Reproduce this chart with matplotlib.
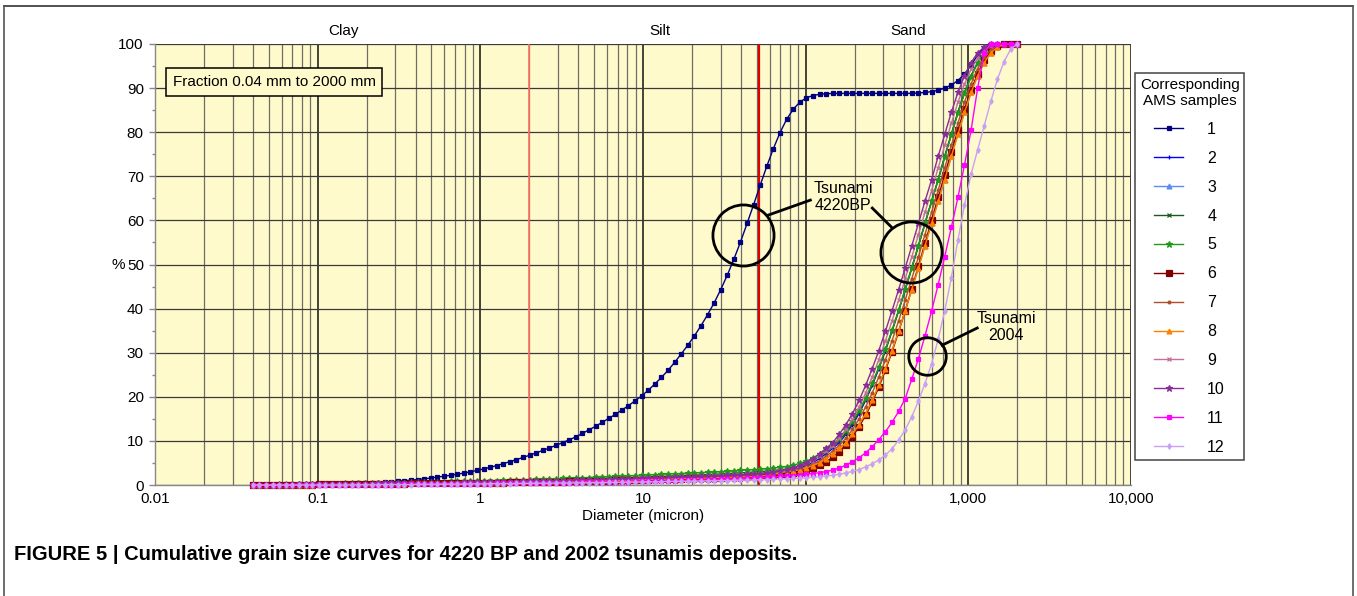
import matplotlib.pyplot as plt
from matplotlib.lines import Line2D
from matplotlib.ticker import FixedLocator, LogLocator, NullFormatter, MultipleLocator

plt.rcParams['font.family'] = ['Liberation Sans', 'DejaVu Sans']

# grain size channels (micron), 0.04 - 2000
diameter = [
    0.0400, 0.0439, 0.0482, 0.0529, 0.0581, 0.0638, 0.0700, 0.0769, 0.0844, 0.0926,
    0.1017, 0.1116, 0.1225, 0.1345, 0.1477, 0.1621, 0.1780, 0.1954, 0.2145, 0.2354,
    0.2585, 0.2837, 0.3114, 0.3419, 0.3753, 0.4120, 0.4523, 0.4965, 0.5450, 0.5983,
    0.6568, 0.7208, 0.7913, 0.8686, 0.9535, 1.0468, 1.149, 1.261, 1.385, 1.520,
    1.669, 1.831, 2.010, 2.207, 2.423, 2.660, 2.920, 3.205, 3.518, 3.862,
    4.240, 4.654, 5.109, 5.609, 6.157, 6.759, 7.420, 8.145, 8.942, 9.816,
    10.78, 11.83, 12.99, 14.26, 15.65, 17.18, 18.86, 20.70, 22.73, 24.95,
    27.39, 30.07, 33.01, 36.23, 39.78, 43.66, 47.93, 52.62, 57.76, 63.41,
    69.61, 76.41, 83.88, 92.09, 101.1, 110.9, 121.8, 133.7, 146.8, 161.1,
    176.9, 194.2, 213.2, 234.0, 256.9, 282.0, 309.6, 339.8, 373.0, 409.5,
    449.5, 493.5, 541.7, 594.7, 652.8, 716.6, 786.7, 863.6, 948.0, 1041,
    1142, 1254, 1376, 1511, 1659, 1821, 2000,
]

# cumulative % for sample 1 (4220 BP silt)
s1 = [
    0, 0, 0, 0, 0, 0, 0, 0.05, 0.05, 0.1,
    0.1, 0.15, 0.15, 0.2, 0.25, 0.3, 0.35, 0.4, 0.5, 0.55,
    0.65, 0.75, 0.85, 1.0, 1.1, 1.25, 1.4, 1.6, 1.8, 2.0,
    2.2, 2.45, 2.7, 3.0, 3.3, 3.65, 4.0, 4.4, 4.85, 5.3,
    5.75, 6.25, 6.75, 7.3, 7.85, 8.4, 9.0, 9.6, 10.25, 10.9,
    11.7, 12.5, 13.3, 14.2, 15.1, 16.0, 17.0, 18.0, 19.1, 20.2,
    21.5, 22.9, 24.4, 26.0, 27.8, 29.7, 31.7, 33.8, 36.1, 38.6,
    41.3, 44.3, 47.6, 51.2, 55.1, 59.3, 63.6, 68.0, 72.3, 76.3,
    79.9, 82.9, 85.2, 86.8, 87.8, 88.3, 88.6, 88.7, 88.8, 88.8,
    88.8, 88.8, 88.8, 88.8, 88.8, 88.8, 88.8, 88.8, 88.8, 88.8,
    88.8, 88.9, 89.0, 89.2, 89.5, 90.0, 90.7, 91.7, 93.2, 95.2,
    97.5, 99.2, 99.9, 100, 100, 100, 100,
]

# fine tails (0.04 - 63 micron) of the sand samples 2-10
tail_mid = [
    0.0, 0.0, 0.05, 0.05, 0.1, 0.1, 0.1, 0.15, 0.15, 0.15,
    0.2, 0.2, 0.2, 0.25, 0.25, 0.25, 0.3, 0.3, 0.3, 0.35,
    0.35, 0.35, 0.4, 0.4, 0.4, 0.45, 0.45, 0.5, 0.5, 0.5,
    0.55, 0.55, 0.6, 0.6, 0.6, 0.65, 0.65, 0.7, 0.7, 0.75,
    0.75, 0.8, 0.8, 0.85, 0.85, 0.9, 0.95, 0.95, 1.0, 1.05,
    1.1, 1.1, 1.15, 1.2, 1.25, 1.3, 1.35, 1.4, 1.45, 1.5,
    1.55, 1.6, 1.65, 1.7, 1.75, 1.8, 1.85, 1.9, 1.95, 2.0,
    2.05, 2.1, 2.2, 2.25, 2.3, 2.4, 2.5, 2.6, 2.7, 2.85,
]
tail_high = [
    0.0, 0.05, 0.1, 0.1, 0.15, 0.15, 0.2, 0.2, 0.2, 0.25,
    0.25, 0.3, 0.3, 0.3, 0.35, 0.35, 0.4, 0.4, 0.45, 0.45,
    0.5, 0.5, 0.55, 0.55, 0.6, 0.6, 0.65, 0.7, 0.7, 0.75,
    0.8, 0.8, 0.85, 0.9, 0.9, 0.95, 1.0, 1.0, 1.05, 1.1,
    1.15, 1.2, 1.25, 1.3, 1.35, 1.4, 1.45, 1.5, 1.55, 1.6,
    1.65, 1.7, 1.8, 1.85, 1.9, 1.95, 2.0, 2.1, 2.15, 2.2,
    2.3, 2.35, 2.4, 2.5, 2.55, 2.6, 2.7, 2.75, 2.8, 2.9,
    2.95, 3.0, 3.1, 3.2, 3.3, 3.4, 3.5, 3.6, 3.7, 3.85,
]
tail_dkgreen = [
    0.0, 0.0, 0.05, 0.05, 0.1, 0.1, 0.15, 0.15, 0.15, 0.2,
    0.2, 0.2, 0.25, 0.25, 0.3, 0.3, 0.3, 0.35, 0.35, 0.4,
    0.4, 0.45, 0.45, 0.5, 0.5, 0.5, 0.55, 0.55, 0.6, 0.6,
    0.65, 0.65, 0.7, 0.7, 0.75, 0.75, 0.8, 0.8, 0.85, 0.9,
    0.9, 0.95, 1.0, 1.0, 1.05, 1.1, 1.1, 1.15, 1.2, 1.25,
    1.3, 1.35, 1.4, 1.45, 1.5, 1.55, 1.6, 1.65, 1.7, 1.8,
    1.85, 1.9, 1.95, 2.0, 2.1, 2.15, 2.2, 2.25, 2.3, 2.4,
    2.45, 2.5, 2.6, 2.7, 2.75, 2.85, 2.95, 3.05, 3.15, 3.3,
]
tail_low = [
    0.0, 0.0, 0.0, 0.05, 0.05, 0.05, 0.1, 0.1, 0.1, 0.1,
    0.15, 0.15, 0.15, 0.2, 0.2, 0.2, 0.2, 0.25, 0.25, 0.25,
    0.3, 0.3, 0.3, 0.3, 0.35, 0.35, 0.35, 0.4, 0.4, 0.4,
    0.45, 0.45, 0.45, 0.5, 0.5, 0.5, 0.5, 0.55, 0.55, 0.6,
    0.6, 0.65, 0.65, 0.7, 0.7, 0.7, 0.75, 0.75, 0.8, 0.85,
    0.85, 0.9, 0.9, 0.95, 1.0, 1.05, 1.1, 1.1, 1.15, 1.2,
    1.25, 1.3, 1.3, 1.35, 1.4, 1.45, 1.5, 1.5, 1.55, 1.6,
    1.65, 1.7, 1.75, 1.8, 1.85, 1.9, 2.0, 2.1, 2.2, 2.3,
]

# sand parts (70 - 2000 micron) of samples 2-10
rise_mid = [
    3.0, 3.2, 3.5, 3.9, 4.4, 5.1, 6.0, 7.1, 8.3, 9.6,
    11.5, 13.7, 16.2, 19.2, 22.6, 26.4, 30.5, 34.9, 39.5, 44.3,
    49.2, 54.2, 59.3, 64.3, 69.2, 74.5, 79.5, 84.5, 89.0, 92.8,
    95.8, 98.0, 99.3, 99.9, 100, 100, 100,
]
rise_right = [
    2.85, 3.0, 3.2, 3.5, 3.9, 4.4, 5.1, 6.0, 7.1, 8.3,
    9.6, 11.5, 13.7, 16.2, 19.2, 22.6, 26.4, 30.5, 34.9, 39.5,
    44.3, 49.2, 54.2, 59.3, 64.3, 69.2, 74.5, 79.5, 84.5, 89.0,
    92.8, 95.8, 98.0, 99.3, 99.9, 100, 100,
]
rise_left = [
    3.2, 3.5, 3.9, 4.4, 5.1, 6.0, 7.1, 8.3, 9.6, 11.5,
    13.7, 16.2, 19.2, 22.6, 26.4, 30.5, 34.9, 39.5, 44.3, 49.2,
    54.2, 59.3, 64.3, 69.2, 74.5, 79.5, 84.5, 89.0, 92.8, 95.8,
    98.0, 99.3, 99.9, 100, 100, 100, 100,
]
rise_green = [
    4.0, 4.2, 4.5, 4.9, 5.4, 6.1, 7.0, 8.1, 9.3, 10.6,
    12.4, 14.5, 16.9, 19.8, 23.1, 26.8, 30.8, 35.1, 39.6, 44.4,
    49.3, 54.3, 59.3, 64.3, 69.2, 74.4, 79.4, 84.3, 88.8, 92.6,
    95.7, 97.9, 99.2, 99.8, 100, 100, 100,
]
rise_dkgreen = [
    3.45, 3.65, 3.95, 4.35, 4.9, 5.6, 6.5, 7.6, 8.8, 10.1,
    11.9, 14.0, 16.5, 19.4, 22.8, 26.5, 30.6, 34.9, 39.5, 44.3,
    49.2, 54.2, 59.3, 64.3, 69.2, 74.5, 79.5, 84.5, 89.0, 92.8,
    95.8, 98.0, 99.3, 99.9, 100, 100, 100,
]
rise_dkred = [
    2.4, 2.55, 2.75, 3.0, 3.4, 3.9, 4.5, 5.3, 6.3, 7.6,
    9.1, 11.0, 13.2, 15.8, 18.8, 22.2, 26.0, 30.2, 34.7, 39.5,
    44.5, 49.6, 54.8, 60.0, 65.2, 70.4, 75.5, 80.5, 85.3, 89.6,
    93.3, 96.3, 98.4, 99.5, 99.9, 100, 100,
]
rise_orange = [
    2.9, 3.1, 3.35, 3.7, 4.15, 4.75, 5.5, 6.5, 7.7, 9.0,
    10.6, 12.6, 15.0, 17.7, 20.9, 24.5, 28.4, 32.7, 37.2, 41.9,
    46.8, 51.7, 56.8, 61.8, 66.8, 71.9, 77.0, 82.0, 86.8, 91.0,
    94.4, 97.0, 98.7, 99.6, 100, 100, 100,
]
rise_mauve = [
    3.1, 3.35, 3.7, 4.15, 4.75, 5.55, 6.55, 7.7, 8.95, 10.55,
    12.6, 14.95, 17.7, 20.9, 24.5, 28.45, 32.7, 37.2, 41.9, 46.75,
    51.7, 56.75, 61.8, 66.75, 71.85, 77.0, 82.0, 86.75, 90.9, 94.3,
    96.9, 98.65, 99.6, 99.95, 100, 100, 100,
]

# 2004 tsunami samples
s11 = [
    0, 0, 0, 0, 0, 0, 0, 0, 0, 0,
    0, 0, 0, 0.05, 0.05, 0.05, 0.05, 0.05, 0.1, 0.1,
    0.1, 0.1, 0.1, 0.15, 0.15, 0.15, 0.15, 0.2, 0.2, 0.2,
    0.2, 0.25, 0.25, 0.25, 0.3, 0.3, 0.3, 0.35, 0.35, 0.35,
    0.4, 0.4, 0.4, 0.45, 0.45, 0.5, 0.5, 0.5, 0.55, 0.55,
    0.6, 0.6, 0.65, 0.65, 0.7, 0.7, 0.75, 0.75, 0.8, 0.85,
    0.85, 0.9, 0.95, 0.95, 1.0, 1.05, 1.1, 1.1, 1.15, 1.2,
    1.25, 1.3, 1.35, 1.4, 1.45, 1.5, 1.6, 1.65, 1.75, 1.85,
    1.95, 2.05, 2.15, 2.3, 2.45, 2.6, 2.8, 3.05, 3.4, 3.85,
    4.5, 5.3, 6.2, 7.3, 8.7, 10.3, 12.1, 14.2, 16.7, 19.6,
    24.0, 28.6, 33.8, 39.4, 45.4, 51.8, 58.4, 65.2, 72.6, 80.5,
    90.0, 98.0, 100, 100, 100, 100, 100,
]
s12 = [
    0, 0, 0, 0, 0, 0, 0, 0, 0, 0,
    0, 0, 0, 0, 0, 0.05, 0.05, 0.05, 0.05, 0.05,
    0.1, 0.1, 0.1, 0.1, 0.1, 0.15, 0.15, 0.15, 0.15, 0.2,
    0.2, 0.2, 0.2, 0.25, 0.25, 0.25, 0.3, 0.3, 0.3, 0.3,
    0.35, 0.35, 0.35, 0.4, 0.4, 0.4, 0.45, 0.45, 0.45, 0.5,
    0.5, 0.5, 0.55, 0.55, 0.6, 0.6, 0.6, 0.65, 0.65, 0.7,
    0.7, 0.75, 0.75, 0.8, 0.8, 0.85, 0.85, 0.9, 0.9, 0.95,
    0.95, 1.0, 1.0, 1.05, 1.1, 1.1, 1.15, 1.2, 1.25, 1.3,
    1.35, 1.4, 1.5, 1.55, 1.65, 1.75, 1.9, 2.05, 2.2, 2.45,
    2.75, 3.1, 3.5, 4.1, 4.8, 5.7, 6.8, 8.2, 10.2, 12.5,
    15.5, 19.0, 23.0, 27.5, 33.0, 39.5, 47.0, 55.5, 63.5, 70.5,
    76.0, 81.5, 87.0, 92.0, 96.0, 98.8, 100,
]

samples = {
    '1': s1,
    '2': tail_mid + rise_mid,
    '3': tail_mid + rise_right,
    '4': tail_dkgreen + rise_dkgreen,
    '5': tail_high + rise_green,
    '6': tail_low + rise_dkred,
    '7': tail_mid + rise_orange,
    '8': tail_low + rise_right,
    '9': tail_mid + rise_mauve,
    '10': tail_mid + rise_left,
    '11': s11,
    '12': s12,
}
colors = {'1': '#000080', '2': '#0000ff', '3': '#5b8cf5', '4': '#1c5a1c',
          '5': '#1f9a1f', '6': '#800000', '7': '#b0502a', '8': '#ff8000',
          '9': '#c0709a', '10': '#8a2b9a', '11': '#ff00ff', '12': '#c8a0f5'}
markers = {'1': 's', '2': '+', '3': '^', '4': 'x', '5': '*', '6': 's',
           '7': '.', '8': '^', '9': 'x', '10': '*', '11': 's', '12': 'd'}
msizes = {'1': 3.5, '2': 3.5, '3': 3.5, '4': 3.5, '5': 4.5, '6': 4,
          '7': 4, '8': 3.5, '9': 3.5, '10': 4.5, '11': 3.5, '12': 2.8}

fig = plt.figure(figsize=(13.57, 5.96), dpi=100)
ax = fig.add_axes([0.1142, 0.1862, 0.7192, 0.740])
ax.set_facecolor('#fffacb')

for name, vals in samples.items():
    ax.plot(diameter, vals, color=colors[name], lw=1.0, marker=markers[name],
            ms=msizes[name], mew=0.9, label=name, zorder=3, clip_on=False)

# grain size class boundaries
ax.axvline(2, color='#ff7060', lw=1.2, zorder=1.5)
ax.axvline(52, color='#e00000', lw=1.6, zorder=1.5)

ax.set_xscale('log')
ax.set_xlim(0.01, 10000)
ax.set_ylim(0, 100)
ax.xaxis.set_major_locator(FixedLocator([0.01, 0.1, 1, 10, 100, 1000, 10000]))
ax.set_xticklabels(['0.01', '0.1', '1', '10', '100', '1,000', '10,000'])
ax.xaxis.set_minor_locator(LogLocator(base=10, subs=range(2, 10), numticks=20))
ax.xaxis.set_minor_formatter(NullFormatter())
ax.yaxis.set_major_locator(MultipleLocator(10))
ax.yaxis.set_minor_locator(MultipleLocator(5))

ax.grid(which='major', axis='x', color='#111111', lw=1.1, zorder=1)
ax.grid(which='minor', axis='x', color='#555555', lw=0.9, alpha=0.85, zorder=1)
ax.grid(which='major', axis='y', color='#3a3a3a', lw=0.9, zorder=1)
ax.set_axisbelow(True)

ax.tick_params(axis='x', which='both', length=0, pad=5, labelsize=11)
ax.tick_params(axis='y', which='major', length=4, width=1, color='#888888',
               pad=4, labelsize=11)
ax.tick_params(axis='y', which='minor', length=2.5, width=1, color='#888888')
for side in ['top', 'right']:
    ax.spines[side].set_visible(False)
for side in ['left', 'bottom']:
    ax.spines[side].set_color('#888888')
    ax.spines[side].set_linewidth(1.0)

ax.set_xlabel('Diameter (micron)', fontsize=11, labelpad=2)
ax.text(-0.031, 0.5, '%', transform=ax.transAxes, ha='right', va='center',
        fontsize=11)

# fraction labels above the plot
trans = ax.get_xaxis_transform()
for lab, xpos in [('Clay', 0.144), ('Silt', 12.8), ('Sand', 427)]:
    ax.text(xpos, 1.03, lab, transform=trans, ha='center', va='center',
            fontsize=11)

ax.text(0.122, 0.914, 'Fraction 0.04 mm to 2000 mm', transform=ax.transAxes,
        ha='center', va='center', fontsize=11, zorder=5,
        bbox=dict(boxstyle='square,pad=0.45', fc='#fffacb', ec='black', lw=1.1))

# annotation circles and leaders
circle_kw = dict(marker='o', mfc='none', mec='black', mew=2.0, ls='none',
                 zorder=6, clip_on=False)
ax.plot([41.4], [56.7], ms=44, **circle_kw)
ax.plot([446], [52.8], ms=44, **circle_kw)
ax.plot([559], [29.3], ms=27, **circle_kw)
ax.plot([58.9, 107], [61.2, 64.6], color='black', lw=2, zorder=6)
ax.plot([341, 257], [58.3, 62.8], color='black', lw=2, zorder=6)
ax.plot([691, 1135], [31.7, 35.6], color='black', lw=2, zorder=6)
ax.text(170, 65.3, 'Tsunami\n4220BP', ha='center', va='center', fontsize=11.5,
        linespacing=1.15, zorder=6)
ax.text(1710, 35.8, 'Tsunami\n2004', ha='center', va='center', fontsize=11.5,
        linespacing=1.15, zorder=6)

handles, labels = ax.get_legend_handles_labels()
leg = fig.legend(handles, labels, loc='upper left',
                 bbox_to_anchor=(1135 / 1357, 1 - 73 / 596),
                 bbox_transform=fig.transFigure, borderaxespad=0,
                 title='Corresponding\nAMS samples', fontsize=11.5,
                 title_fontsize=11, frameon=True, fancybox=False,
                 edgecolor='#444444', framealpha=1, handlelength=1.8,
                 handletextpad=1.5, labelspacing=0.87, borderpad=0.3,
                 numpoints=1, alignment='center')
leg.get_frame().set_linewidth(1.1)
leg.get_title().set_multialignment('center')

# outer frame of the figure panel
fig.add_artist(Line2D([0.003, 0.997], [0.99, 0.99], color='#333333', lw=1.2))
fig.add_artist(Line2D([0.003, 0.003], [0.0, 0.99], color='#555555', lw=1.2))
fig.add_artist(Line2D([0.997, 0.997], [0.0, 0.99], color='#555555', lw=1.2))

fig.text(14 / 1357, 1 - 555 / 596,
         'FIGURE 5 | Cumulative grain size curves for 4220 BP and 2002 tsunamis deposits.',
         fontsize=14.5, fontweight='bold', va='center', ha='left')

fig.savefig('out.png', dpi=100)
